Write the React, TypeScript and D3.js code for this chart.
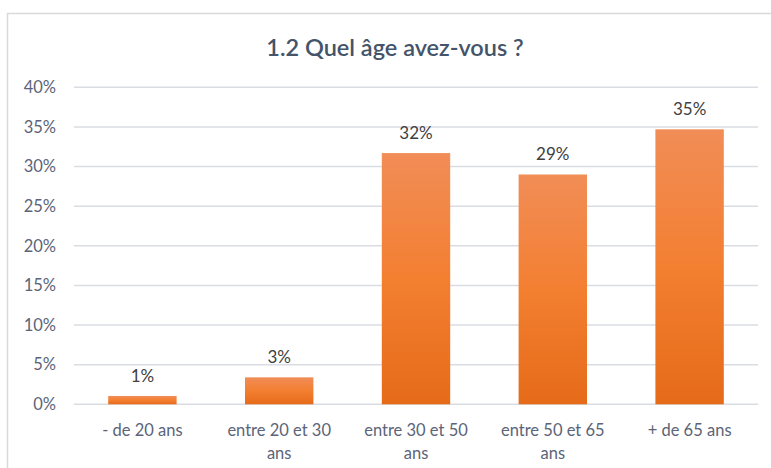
import React from "react";
import * as d3 from "d3";

const categories: string[][] = [
  ["- de 20 ans"],
  ["entre 20 et 30", "ans"],
  ["entre 30 et 50", "ans"],
  ["entre 50 et 65", "ans"],
  ["+ de 65 ans"],
];
const values: number[] = [1.05, 3.4, 31.7, 29.0, 34.7];
const valueLabels: string[] = ["1%", "3%", "32%", "29%", "35%"];
const yTicks: number[] = [0, 5, 10, 15, 20, 25, 30, 35, 40];
const title = "1.2 Quel âge avez-vous ?";

const W = 771;
const H = 468;
const margin = { left: 74, right: 13, top: 87.3, bottom: 63.7 };
const FONT = "Lato, 'Open Sans', sans-serif";

export default function App() {
  const x = d3
    .scaleBand<number>()
    .domain(d3.range(categories.length))
    .range([margin.left, W - margin.right])
    .paddingInner(0.5)
    .paddingOuter(0.25);
  const y = d3.scaleLinear().domain([0, 40]).range([H - margin.bottom, margin.top]);

  return (
    <div style={{ position: "absolute", left: 0, top: 0, width: W, height: H, background: "#fff" }}>
      <svg width={W} height={H} style={{ display: "block" }}>
        <defs>
          <linearGradient id="barGrad" x1="0" y1="0" x2="0" y2="1">
            <stop offset="0%" stopColor="#F18D57" />
            <stop offset="50%" stopColor="#F37F31" />
            <stop offset="100%" stopColor="#E56B19" />
          </linearGradient>
        </defs>
        <rect x={0} y={0} width={W} height={H} fill="#fff" />
        <path d={`M7.5,${H} V13.5 H${W}`} fill="none" stroke="#D9D9D9" strokeWidth={1.5} />
        <text
          x={395}
          y={56}
          textAnchor="middle"
          fontFamily={FONT}
          fontSize={23.5}
          fontWeight={600}
          fill="#44546A"
        >
          {title}
        </text>
        {yTicks.map((t) => (
          <g key={t}>
            <line
              x1={margin.left}
              x2={W - margin.right}
              y1={y(t)}
              y2={y(t)}
              stroke="#D9DDE3"
              strokeWidth={1.5}
            />
            <text
              x={56}
              y={y(t)}
              dy="0.35em"
              textAnchor="end"
              fontFamily={FONT}
              fontSize={16.5}
              fill="#5B6478"
            >
              {t}%
            </text>
          </g>
        ))}
        {values.map((v, i) => {
          const bx = x(i)!;
          const bw = x.bandwidth();
          const top = y(v);
          return (
            <g key={i}>
              <rect x={bx} y={top} width={bw} height={y(0) - top} fill="url(#barGrad)" />
              <text
                x={bx + bw / 2}
                y={top - 14}
                textAnchor="middle"
                fontFamily={FONT}
                fontSize={17}
                fill="#404040"
              >
                {valueLabels[i]}
              </text>
              {categories[i].map((line, j) => (
                <text
                  key={j}
                  x={bx + bw / 2}
                  y={436 + j * 23}
                  textAnchor="middle"
                  fontFamily={FONT}
                  fontSize={16.5}
                  fill="#5B6478"
                >
                  {line}
                </text>
              ))}
            </g>
          );
        })}
      </svg>
    </div>
  );
}
